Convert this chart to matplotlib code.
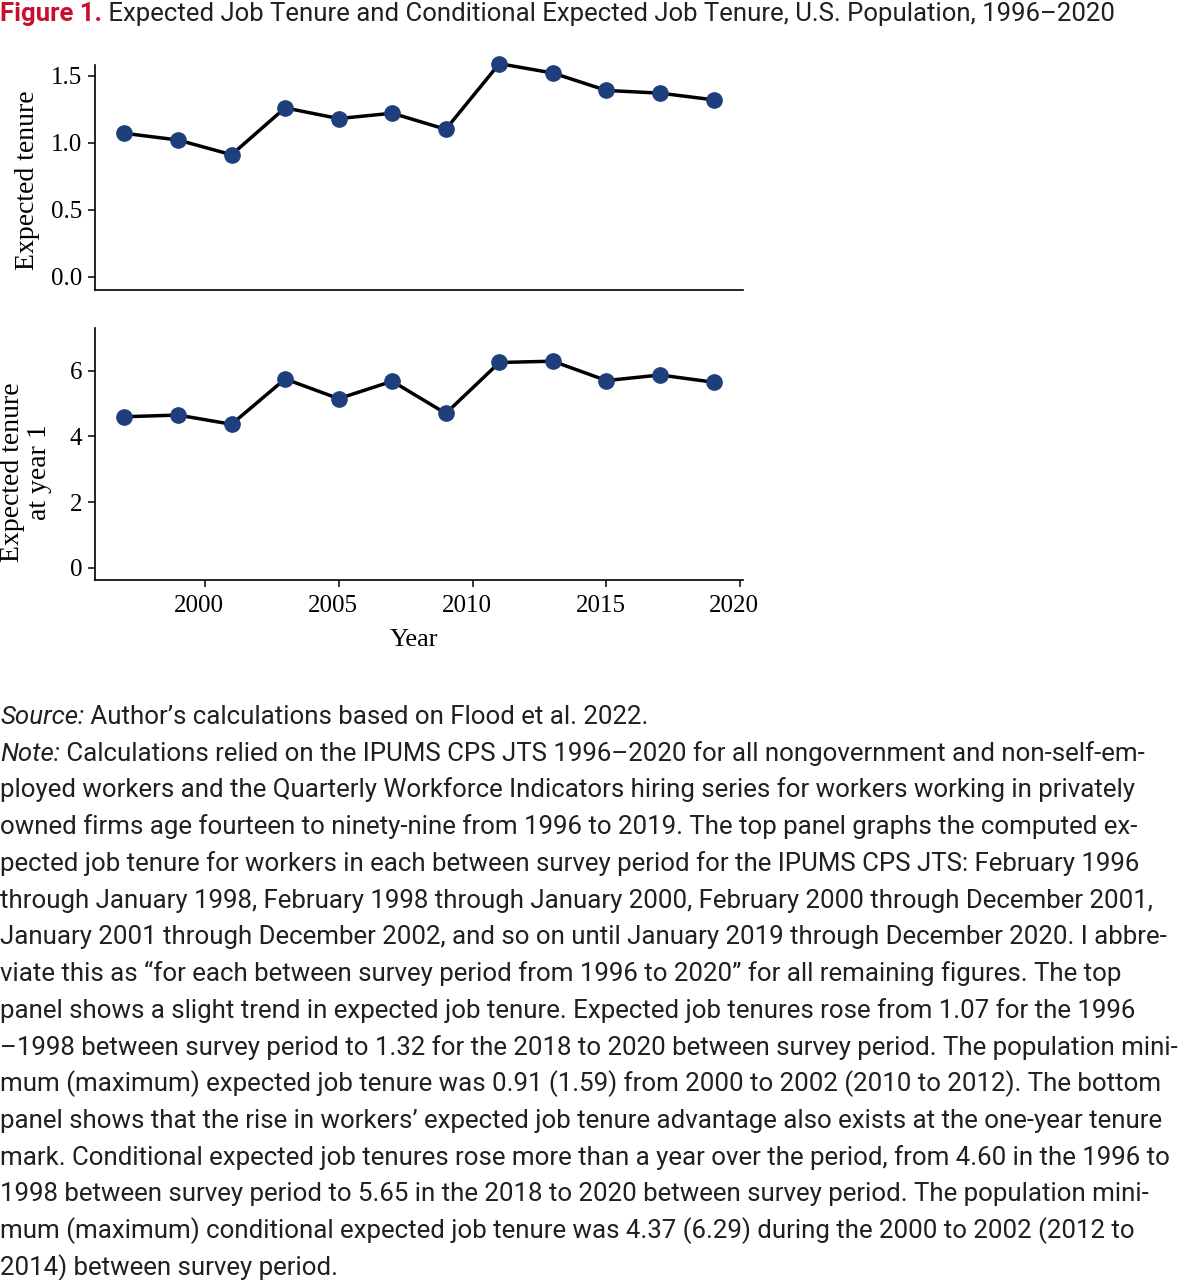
import matplotlib
matplotlib.use("Agg")
import matplotlib.pyplot as plt
import matplotlib.transforms as mtransforms

# data
years = [1997, 1999, 2001, 2003, 2005, 2007, 2009, 2011, 2013, 2015, 2017, 2019]
expected_tenure = [1.07, 1.02, 0.91, 1.26, 1.18, 1.22, 1.10, 1.59, 1.52, 1.39, 1.37, 1.32]
tenure_at_year1 = [4.60, 4.65, 4.37, 5.75, 5.15, 5.68, 4.70, 6.25, 6.29, 5.70, 5.87, 5.65]

top_yticks = [0.0, 0.5, 1.0, 1.5]
bottom_yticks = [0, 2, 4, 6]
xticks = [2000, 2005, 2010, 2015, 2020]

title_lead = "Figure 1."
title_rest = " Expected Job Tenure and Conditional Expected Job Tenure, U.S. Population, 1996\u20132020"
source_label = "Source:"
source_text = " Author\u2019s calculations based on Flood et al. 2022."
note_label = "Note:"
note_first = " Calculations relied on the IPUMS CPS JTS 1996\u20132020 for all nongovernment and non-self-em-"
note_lines = [
    "ployed workers and the Quarterly Workforce Indicators hiring series for workers working in privately",
    "owned firms age fourteen to ninety-nine from 1996 to 2019. The top panel graphs the computed ex-",
    "pected job tenure for workers in each between survey period for the IPUMS CPS JTS: February 1996",
    "through January 1998, February 1998 through January 2000, February 2000 through December 2001,",
    "January 2001 through December 2002, and so on until January 2019 through December 2020. I abbre-",
    "viate this as \u201cfor each between survey period from 1996 to 2020\u201d for all remaining figures. The top",
    "panel shows a slight trend in expected job tenure. Expected job tenures rose from 1.07 for the 1996",
    "\u20131998 between survey period to 1.32 for the 2018 to 2020 between survey period. The population mini-",
    "mum (maximum) expected job tenure was 0.91 (1.59) from 2000 to 2002 (2010 to 2012). The bottom",
    "panel shows that the rise in workers\u2019 expected job tenure advantage also exists at the one-year tenure",
    "mark. Conditional expected job tenures rose more than a year over the period, from 4.60 in the 1996 to",
    "1998 between survey period to 5.65 in the 2018 to 2020 between survey period. The population mini-",
    "mum (maximum) conditional expected job tenure was 4.37 (6.29) during the 2000 to 2002 (2012 to",
    "2014) between survey period.",
]

W, H = 1186, 1280
RED = "#c8102e"
NAVY = "#1f3f7c"
INK = "#231f20"
SERIF = ["Liberation Serif", "DejaVu Serif"]
SANS = ["Roboto", "DejaVu Sans"]

fig = plt.figure(figsize=(W / 100, H / 100), dpi=100)

def fx(px):
    return px / W

def fy(py):
    return 1 - py / H

x_left, x_right = 95, 743
ax1 = fig.add_axes([fx(x_left), fy(290), fx(x_right - x_left), (290 - 65) / H])
ax2 = fig.add_axes([fx(x_left), fy(580), fx(x_right - x_left), (580 - 328) / H])

for ax, vals in ((ax1, expected_tenure), (ax2, tenure_at_year1)):
    ax.plot(years, vals, color="black", lw=2.5, zorder=2, clip_on=False)
    ax.plot(years, vals, "o", color=NAVY, ms=11, zorder=3, clip_on=False)
    ax.set_xlim(1995.9, 2020.1)
    for side in ("top", "right"):
        ax.spines[side].set_visible(False)
    for side in ("left", "bottom"):
        ax.spines[side].set_linewidth(1.2)
    ax.tick_params(axis="y", direction="out", length=5, width=1.1, pad=4)

ax1.set_ylim(-0.1, 1.58)
ax1.set_yticks(top_yticks)
ax1.set_yticklabels(["%.1f" % v for v in top_yticks], family=SERIF, fontsize=18)
ax1.set_xticks([])

ax2.set_ylim(-0.37, 7.3)
ax2.set_yticks(bottom_yticks)
ax2.set_yticklabels([str(v) for v in bottom_yticks], family=SERIF, fontsize=18)
ax2.set_xticks(xticks)
ax2.set_xticklabels([str(v) for v in xticks], family=SERIF, fontsize=18)
ax2.tick_params(axis="x", direction="out", length=5, width=1.1, pad=6)
# year labels sit a little left of their ticks in the reference
shift = mtransforms.ScaledTranslation(-6 / 100, 0, fig.dpi_scale_trans)
for lab in ax2.get_xticklabels():
    lab.set_transform(lab.get_transform() + shift)

fig.text(fx(28), fy(180), "Expected tenure", rotation=90, ha="center", va="center",
         family=SERIF, fontsize=20)
fig.text(fx(26), fy(472), "Expected tenure\nat year 1", rotation=90, ha="center", va="center",
         family=SERIF, fontsize=20, linespacing=1.15)
fig.text(fx(414), fy(640), "Year", ha="center", va="center", family=SERIF, fontsize=19)

# text block: measure with the renderer so the lines fit the reference widths
fig.canvas.draw()
r = fig.canvas.get_renderer()

def width_px(s, **kw):
    t = fig.text(0, 0, s, **kw)
    w = t.get_window_extent(r).width
    t.remove()
    return w

def draw_runs(x, base_y, runs, size):
    for s, kw in runs:
        t = fig.text(fx(x), fy(base_y), s, fontsize=size, va="baseline", ha="left",
                     color=kw.pop("color", INK), family=SANS, **kw)
        x += t.get_window_extent(r).width

title_w = (width_px(title_lead, fontsize=10, family=SANS, weight="bold")
           + width_px(title_rest, fontsize=10, family=SANS))
title_size = 10 * 1117 / title_w

body_size = 10 * 1155 / width_px(note_lines[0], fontsize=10, family=SANS)
widest = max(width_px(s, fontsize=10, family=SANS) for s in note_lines)
body_size = min(body_size, 10 * 1182 / widest)

draw_runs(0, 21, [(title_lead, {"weight": "bold", "color": RED}), (title_rest, {})], title_size)

step = 36.73
base0 = 724
draw_runs(0, base0, [(source_label, {"style": "italic"}), (source_text, {})], body_size)
draw_runs(0, base0 + step, [(note_label, {"style": "italic"}), (note_first, {})], body_size)
for i, line in enumerate(note_lines):
    draw_runs(0, base0 + step * (i + 2), [(line, {})], body_size)

fig.savefig("out.png", dpi=100)
